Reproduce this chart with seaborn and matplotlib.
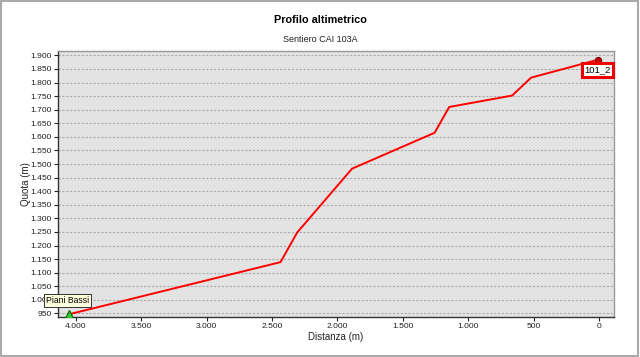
import matplotlib
matplotlib.use("Agg")
import matplotlib.pyplot as plt
import matplotlib.ticker as mticker
import seaborn as sns
import pandas as pd
from matplotlib.patches import Rectangle

# Data
distanza = [4053, 2435, 2308, 1888, 1257, 1145, 664, 519, 8]
quota = [947, 1139, 1248, 1483, 1615, 1710, 1752, 1818, 1884]
start_label = "Piani Bassi"
end_label = "101_2"
title = "Profilo altimetrico"
subtitle = "Sentiero CAI 103A"
xticks = [4000, 3500, 3000, 2500, 2000, 1500, 1000, 500, 0]
yticks = list(range(950, 1901, 50))

df = pd.DataFrame({"Distanza (m)": distanza, "Quota (m)": quota})

sns.set_theme(style="white")
plt.rcParams['font.family'] = ['Liberation Sans', 'DejaVu Sans']

fig = plt.figure(figsize=(6.4, 3.57), dpi=100)
fig.patch.set_facecolor("white")
ax = fig.add_axes([58/640, 1-317/357, (614-58)/640, (317-51)/357])
ax.set_facecolor("#e3e3e3")

sns.lineplot(data=df, x="Distanza (m)", y="Quota (m)", ax=ax, color="#ff0000",
             linewidth=1.4, sort=False, estimator=None, zorder=3)

ax.plot(distanza[0], quota[0], marker="^", markersize=6, color="#33cc33",
        markeredgecolor="#006600", markeredgewidth=0.8, zorder=4, linestyle="none")
ax.plot(distanza[-1], quota[-1], marker="o", markersize=4.5, color="#cc0000",
        markeredgecolor="#660000", markeredgewidth=0.7, zorder=4, linestyle="none")

ax.set_xlim(4137, -115)
ax.set_ylim(937, 1916)
ax.set_xticks(xticks)
ax.set_yticks(yticks)
fmt = mticker.FuncFormatter(lambda v, p: f"{int(v):,}".replace(",", "."))
ax.xaxis.set_major_formatter(fmt)
ax.yaxis.set_major_formatter(fmt)
ax.tick_params(axis="both", labelsize=6.1, colors="#222222", length=3, width=0.8,
               direction="out", pad=1.5)
ax.tick_params(axis="both", bottom=True, left=True)
ax.yaxis.grid(True, linestyle=(0, (2, 1.5)), color="#aaaaaa", linewidth=0.8)
ax.xaxis.grid(False)
ax.set_axisbelow(True)

for s in ["left", "bottom"]:
    ax.spines[s].set_color("#333333")
    ax.spines[s].set_linewidth(1.0)
for s in ["top", "right"]:
    ax.spines[s].set_color("#999999")
    ax.spines[s].set_linewidth(1.0)

ax.set_xlabel("Distanza (m)", fontsize=7, color="#222222", labelpad=1.5)
ax.set_ylabel("Quota (m)", fontsize=7, color="#222222", labelpad=-0.5)

fig.text(0.5, 1-20/357, title, ha="center", va="center", fontsize=7.8,
         fontweight="bold", color="black")
fig.text(0.5, 1-40/357, subtitle, ha="center", va="center", fontsize=6.5,
         color="#222222")

# Labels
ax.annotate(start_label, xy=(distanza[0], quota[0]), xytext=(-1, 10),
            textcoords="offset points", fontsize=6.2, color="black",
            ha="center", va="center", zorder=6,
            bbox=dict(boxstyle="square,pad=0.2", fc="#ffffe0", ec="#333333", lw=0.7))
ax.annotate(end_label, xy=(distanza[-1], quota[-1]), xytext=(0, -7.5),
            textcoords="offset points", fontsize=6.8, color="black",
            ha="center", va="center", zorder=6,
            bbox=dict(boxstyle="square,pad=0.25", fc="white", ec="#ee0000", lw=2.2))

# outer border
fig.patches.append(Rectangle((0.002, 0.003), 0.995, 0.994, transform=fig.transFigure,
                             fill=False, ec="#aaaaaa", lw=1.5))

fig.savefig("out.png", dpi=100)
